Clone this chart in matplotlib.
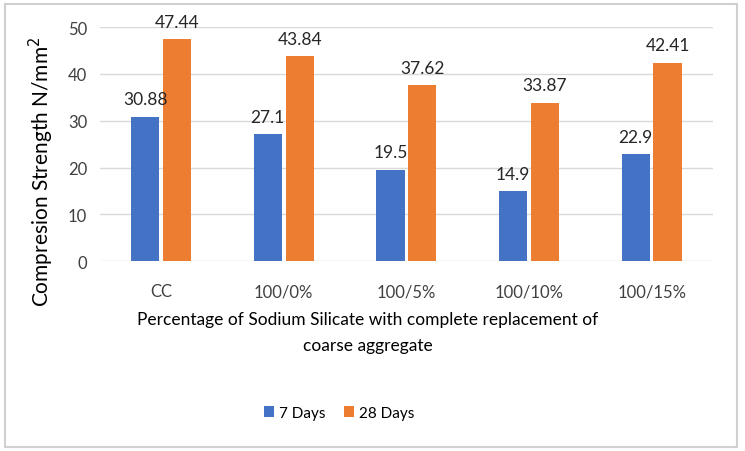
import numpy as np
import matplotlib.pyplot as plt
from matplotlib.patches import Rectangle

categories = ['CC', '100/0%', '100/5%', '100/10%', '100/15%']
days7 = [30.88, 27.1, 19.5, 14.9, 22.9]
days28 = [47.44, 43.84, 37.62, 33.87, 42.41]
labels7 = ['30.88', '27.1', '19.5', '14.9', '22.9']
labels28 = ['47.44', '43.84', '37.62', '33.87', '42.41']

plt.rcParams['font.family'] = ['Lato', 'DejaVu Sans']

fig = plt.figure(figsize=(7.45, 4.52), dpi=100)
ax = fig.add_axes([0.134, 0.42, 0.823, 0.518])

x = np.arange(len(categories))
w = 0.23
gap = 0.03
b1 = ax.bar(x - (w + gap) / 2, days7, w, color='#4472C4', label='7 Days', zorder=3)
b2 = ax.bar(x + (w + gap) / 2, days28, w, color='#ED7D31', label='28 Days', zorder=3)

for bars, labs in [(b1, labels7), (b2, labels28)]:
    for b, lab in zip(bars, labs):
        ax.text(b.get_x() + b.get_width() / 2, b.get_height() + 2.0, lab,
                ha='center', va='bottom', fontsize=12.5, color='#262626')

ax.set_ylim(0, 50)
ax.set_xlim(-0.5, len(categories) - 0.5)
ax.set_yticks([0, 10, 20, 30, 40, 50])
ax.set_xticks(x)
ax.set_xticklabels(categories)
ax.tick_params(length=0, labelsize=12, colors='#404040', pad=9)
ax.tick_params(axis='x', pad=16)
ax.grid(axis='y', color='#d9d9d9', linewidth=1, zorder=0)
for s in ax.spines.values():
    s.set_visible(False)

ax.set_ylabel('Compresion Strength N/mm$^2$', fontsize=15, color='#000000', va='center')
ax.yaxis.set_label_coords(-0.095, 0.385)
ax.set_xlabel('Percentage of Sodium Silicate with complete replacement of\ncoarse aggregate',
              fontsize=12.5, color='#000000', linespacing=1.7)
ax.xaxis.set_label_coords(0.437, -0.215)

fig.legend(handles=[b1, b2], loc='center', bbox_to_anchor=(339 / 745, 1 - 414 / 452),
           ncol=2, frameon=False, fontsize=11, handlelength=0.7, handleheight=0.7,
           columnspacing=1.2, handletextpad=0.3)

fig.patches.append(Rectangle((5 / 745, 1 - 448 / 452), 732 / 745, 443 / 452,
                             transform=fig.transFigure, fill=False,
                             edgecolor='#d0d0d0', linewidth=1.5))

fig.savefig('out.png', dpi=100)
